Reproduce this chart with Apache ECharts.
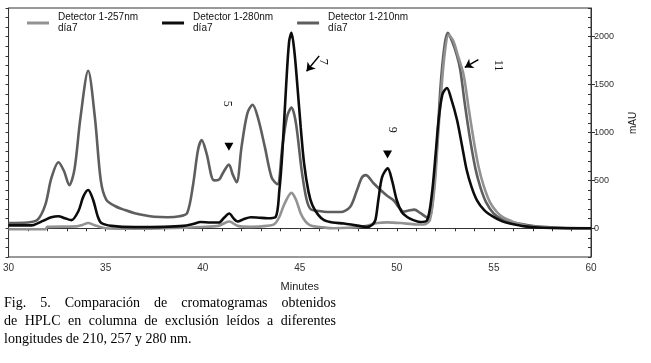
<!DOCTYPE html>
<html>
<head>
<meta charset="utf-8">
<script src="https://cdn.jsdelivr.net/npm/echarts@6/dist/echarts.min.js"></script>
<style>
html, body { margin: 0; padding: 0; background: #fff; }
#main { width: 651px; height: 363px; }
</style>
</head>
<body>
<div id="main"></div>
<script>
// retention times (min) and absorbance (mAU)
var t210 = [30.0, 31.0, 31.5, 31.9, 32.2, 32.57, 32.85, 33.13, 33.4, 33.7, 34.1, 34.45, 34.75, 35.03, 35.5, 36.0, 36.5, 37.0, 37.5, 38.2, 38.8, 39.2, 39.5, 39.76, 39.95, 40.2, 40.58, 40.85, 41.05, 41.35, 41.55, 41.75, 42.0, 42.3, 42.57, 42.85, 43.2, 43.55, 43.85, 44.1, 44.35, 44.57, 44.8, 45.1, 45.35, 45.56, 46.0, 46.42, 47.1, 47.6, 47.95, 48.2, 48.4, 48.8, 49.16, 49.5, 49.84, 50.1, 50.34, 50.6, 50.9, 51.2, 51.64, 51.85, 52.05, 52.25, 52.45, 52.62, 52.85, 53.1, 53.27, 53.5, 53.78, 54.05, 54.3, 54.6, 54.98, 55.4, 55.83, 56.7, 57.5, 58.4, 60.0];
var v210 = [55, 60, 90, 250, 520, 690, 600, 450, 620, 1150, 1645, 1150, 500, 300, 230, 190, 157, 135, 120, 115, 125, 160, 450, 820, 920, 780, 500, 510, 580, 665, 560, 480, 850, 1200, 1290, 1150, 850, 530, 460, 850, 1170, 1260, 1100, 600, 300, 200, 180, 170, 170, 225, 400, 530, 555, 470, 400, 340, 290, 220, 175, 185, 195, 160, 105, 300, 800, 1480, 1900, 2040, 1950, 1800, 1650, 1300, 920, 620, 430, 270, 155, 95, 66, 35, 15, 5, 0];

var t280 = [30.0, 31.0, 31.3, 31.8, 32.2, 32.57, 32.9, 33.24, 33.6, 33.85, 34.1, 34.35, 34.6, 34.78, 35.3, 36.5, 38.0, 39.0, 39.5, 39.9, 40.4, 40.84, 41.1, 41.37, 41.6, 41.8, 42.1, 42.48, 42.9, 43.34, 43.76, 43.95, 44.1, 44.3, 44.45, 44.57, 44.72, 44.88, 45.05, 45.22, 45.45, 45.65, 45.95, 46.25, 46.7, 47.27, 47.9, 48.47, 48.75, 48.9, 49.05, 49.24, 49.53, 49.75, 50.0, 50.25, 50.53, 50.85, 51.2, 51.56, 51.8, 52.0, 52.15, 52.35, 52.58, 52.8, 53.1, 53.35, 53.6, 53.85, 54.12, 54.5, 54.98, 55.4, 55.83, 56.6, 57.55, 60.0];
var v280 = [30, 30, 35, 80, 115, 126, 105, 85, 180, 330, 400, 300, 120, 55, 25, 12, 15, 25, 45, 65, 60, 60, 110, 155, 100, 70, 95, 115, 110, 105, 120, 400, 785, 1500, 1950, 2040, 1850, 1480, 1050, 680, 380, 240, 140, 85, 60, 50, 30, 15, 40, 90, 300, 535, 625, 500, 290, 170, 118, 85, 66, 84, 350, 780, 1130, 1400, 1465, 1350, 1130, 870, 605, 430, 295, 190, 118, 75, 50, 20, 5, 0];

var t257 = [30.0, 31.0, 31.9, 32.0, 33.5, 33.8, 34.1, 34.4, 35.0, 36.0, 38.0, 39.0, 39.9, 40.8, 41.37, 41.8, 42.5, 43.3, 43.7, 43.95, 44.2, 44.57, 44.8, 45.05, 45.3, 45.56, 46.2, 46.75, 47.5, 48.3, 49.0, 49.5, 50.2, 51.0, 51.4, 51.7, 51.95, 52.1, 52.24, 52.45, 52.67, 52.9, 53.15, 53.44, 53.7, 53.95, 54.2, 54.46, 54.8, 55.15, 55.5, 56.0, 56.5, 57.03, 58.0, 60.0];
var v257 = [-10, -10, -10, 15, 20, 35, 55, 35, 0, -5, 0, 5, 14, 25, 70, 25, 15, 25, 45, 120, 250, 370, 300, 155, 70, 30, 10, 0, 5, 20, 55, 62, 55, 40, 40, 85, 450, 900, 1300, 1800, 2020, 1960, 1800, 1600, 1250, 930, 650, 450, 270, 170, 110, 66, 35, 15, 5, 0];

var seriesNames = ['Detector 1-257nm', 'Detector 1-280nm', 'Detector 1-210nm'];
var xLabels = [30, 35, 40, 45, 50, 55, 60];
var yLabels = [0, 500, 1000, 1500, 2000];

// peak markers: fraction number, triangle/arrow tip, text position
var peakNames = ['5', '7', '9', '11'];
var peakTips = [[41.35, 850], [45.35, 1640], [49.52, 770], [53.5, 1680]];
var arrowTails = [null, [46.0, 1800], null, [54.2, 1760]];
var peakText = [[41.25, 1300], [46.2, 1740], [49.78, 1030], [55.2, 1700]];

function pairs(t, v) {
    var out = [];
    for (var i = 0; i < t.length; i++) out.push([t[i], v[i]]);
    return out;
}

var xTicks = [];
for (var i = 30; i <= 60; i++) xTicks.push(i);
var yMinor = [];
for (var j = -300; j <= 2300; j += 100) yMinor.push(j);

// annotation marks
var triPoints = [], textPoints = [], arrowLines = [];
for (var k = 0; k < peakNames.length; k++) {
    textPoints.push({
        coord: peakText[k],
        symbol: 'circle',
        symbolSize: 1,
        itemStyle: { color: 'rgba(0,0,0,0)' },
        label: {
            show: true, formatter: peakNames[k], position: 'inside', rotate: -90,
            color: '#111', fontSize: 12, fontFamily: 'Liberation Serif'
        }
    });
    if (arrowTails[k]) {
        arrowLines.push([{ coord: arrowTails[k] }, { coord: peakTips[k] }]);
    } else {
        triPoints.push({
            coord: peakTips[k],
            symbol: 'triangle',
            symbolRotate: 180,
            symbolSize: [9, 8],
            itemStyle: { color: '#000' },
            label: { show: false }
        });
    }
}

var chartDom = document.getElementById('main');
var myChart = echarts.init(chartDom, null, { renderer: 'canvas' });

// justify the caption like the printed figure
var capFont = '14px "Liberation Serif"';
var capLines = [
    'Fig. 5. Comparación de cromatogramas obtenidos',
    'de HPLC en columna de exclusión leídos a diferentes',
    'longitudes de 210, 257 y 280 nm.'
];
var ctx = document.createElement('canvas').getContext('2d');
ctx.font = capFont;
var capGraphic = [];
var capLeft = 4, capRight = 336, capTop = 303, capStep = 18;
capLines.forEach(function(line, li) {
    var y = capTop + li * capStep;
    if (li === capLines.length - 1) {
        capGraphic.push({ type: 'text', x: capLeft, y: y, style: {
            text: line, font: capFont, fill: '#000', textVerticalAlign: 'middle' } });
        return;
    }
    var words = line.split(' ');
    var total = 0;
    words.forEach(function(w) { total += ctx.measureText(w).width; });
    var gap = (capRight - capLeft - total) / (words.length - 1);
    var x = capLeft;
    words.forEach(function(w) {
        capGraphic.push({ type: 'text', x: x, y: y, style: {
            text: w, font: capFont, fill: '#000', textVerticalAlign: 'middle' } });
        x += ctx.measureText(w).width + gap;
    });
});

capGraphic.push({
    type: 'text', x: 633, y: 123, rotation: Math.PI / 2,
    style: { text: 'mAU', font: '10px "Liberation Sans"', fill: '#222',
        textAlign: 'center', textVerticalAlign: 'middle' }
});

var option = {
    animation: false,
    backgroundColor: '#fff',
    grid: {
        left: 7, right: 60, top: 8, bottom: 106,
        show: true, borderColor: '#333', borderWidth: 1
    },
    legend: {
        data: seriesNames,
        left: 27, top: 12, padding: 0,
        itemWidth: 22, itemHeight: 3, itemGap: 24,
        icon: 'rect',
        formatter: function(name) { return name + '\ndía7'; },
        textStyle: { fontSize: 10, lineHeight: 11, color: '#111',
            fontFamily: 'Liberation Sans', padding: [0, 0, 0, 4] }
    },
    xAxis: {
        type: 'value', min: 30, max: 60,
        name: 'Minutes', nameLocation: 'middle', nameGap: 24,
        nameTextStyle: { fontSize: 11, color: '#222', fontFamily: 'Liberation Sans' },
        axisLine: { lineStyle: { color: '#333' } },
        axisTick: { customValues: xTicks, length: 3, lineStyle: { color: '#333' } },
        axisLabel: { customValues: xLabels, fontSize: 10, color: '#333', margin: 6,
            fontFamily: 'Liberation Sans' },
        splitLine: { show: false }
    },
    yAxis: [{
        type: 'value', position: 'left', min: -300, max: 2300,
        axisLine: { show: true, lineStyle: { color: '#333' } },
        axisTick: { show: true, customValues: yMinor, length: 3, lineStyle: { color: '#333' } },
        axisLabel: { show: false },
        splitLine: { show: false }
    }, {
        type: 'value', position: 'right', min: -300, max: 2300,
        axisLine: { show: true, lineStyle: { color: '#333' } },
        axisTick: { show: true, customValues: yLabels, length: 4, lineStyle: { color: '#333' } },
        axisLabel: { customValues: yLabels, fontSize: 9, color: '#333', margin: 3,
            fontFamily: 'Liberation Sans',
            formatter: function(v) { return String(v); } },
        splitLine: { show: false }
    }, {
        type: 'value', position: 'right', min: -300, max: 2300,
        axisLine: { show: false },
        axisTick: { show: true, inside: true, customValues: yMinor, length: 3,
            lineStyle: { color: '#333' } },
        axisLabel: { show: false },
        splitLine: { show: false }
    }],
    graphic: capGraphic,
    series: [{
        name: seriesNames[2], type: 'line', data: pairs(t210, v210),
        showSymbol: false, smooth: 0.3, color: '#5e5e5e',
        lineStyle: { width: 2.6, color: '#5e5e5e' }
    }, {
        name: seriesNames[0], type: 'line', data: pairs(t257, v257),
        showSymbol: false, smooth: 0.3, color: '#929292',
        lineStyle: { width: 2.6, color: '#929292' }
    }, {
        name: seriesNames[1], type: 'line', data: pairs(t280, v280),
        showSymbol: false, smooth: 0.3, color: '#0c0c0c',
        lineStyle: { width: 2.6, color: '#0c0c0c' },
        markPoint: { silent: true, data: triPoints.concat(textPoints) },
        markLine: {
            silent: true, symbol: ['none', 'arrow'], symbolSize: 8,
            label: { show: false },
            lineStyle: { color: '#000', width: 1.5, type: 'solid' },
            data: arrowLines
        }
    }]
};

option && myChart.setOption(option);
</script>
</body>
</html>
